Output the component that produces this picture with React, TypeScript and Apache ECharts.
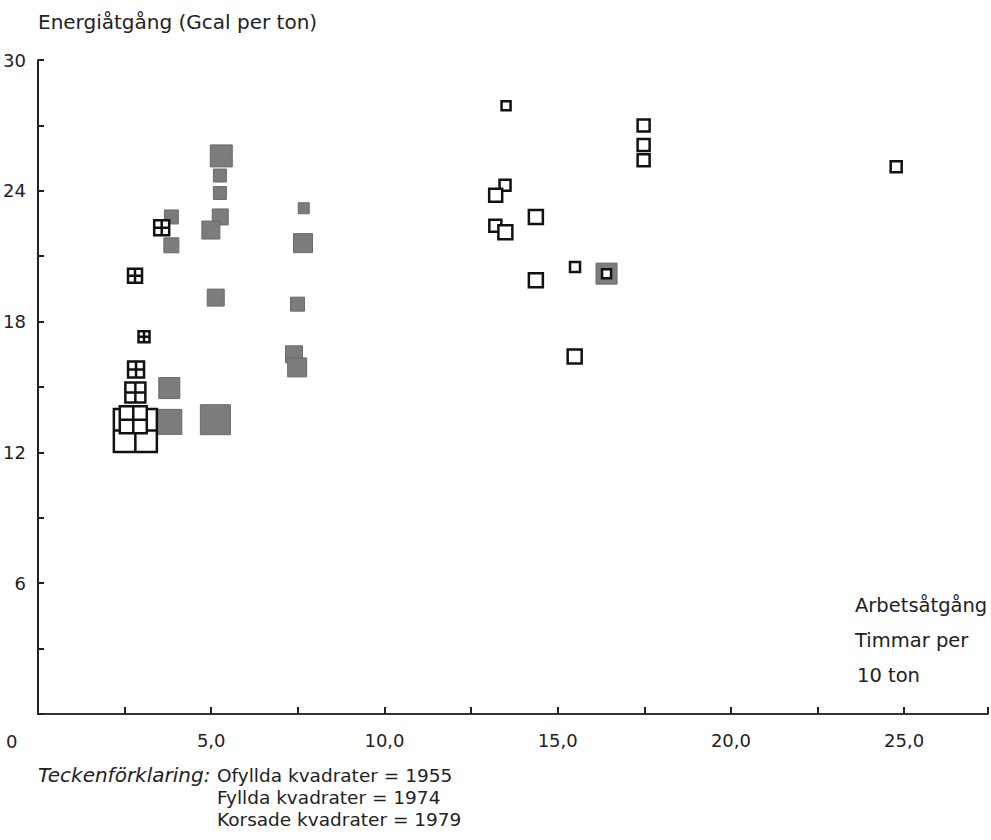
import React, { useEffect, useRef } from "react";
import * as echarts from "echarts";

// [arbetsåtgång (timmar per 10 ton), energiåtgång (Gcal per ton), symbol size]
const unfilled1955: number[][] = [
  [13.51, 27.9, 9],
  [17.48, 27.0, 12],
  [17.48, 26.1, 12],
  [17.48, 25.4, 12],
  [24.77, 25.1, 11],
  [13.48, 24.25, 11],
  [13.21, 23.8, 13],
  [14.37, 22.8, 14],
  [13.2, 22.4, 12],
  [13.49, 22.1, 14],
  [15.5, 20.5, 10],
  [14.37, 19.9, 14],
  [15.49, 16.4, 14],
];

const filled1974: number[][] = [
  [5.29, 25.6, 22],
  [5.25, 24.7, 13],
  [5.25, 23.9, 13],
  [5.26, 22.8, 16],
  [4.99, 22.2, 18],
  [3.85, 22.8, 14],
  [3.85, 21.5, 15],
  [7.67, 23.2, 11],
  [7.65, 21.6, 19],
  [5.13, 19.1, 17],
  [7.49, 18.8, 14],
  [7.39, 16.5, 17],
  [7.48, 15.9, 19],
  [3.79, 14.95, 21],
  [3.79, 13.4, 25],
  [5.12, 13.5, 30],
  [16.41, 20.2, 21],
];

const unfilledOverlay1955: number[][] = [[16.41, 20.2, 9]];

const crossed1979: number[][] = [
  [2.81, 13.0, 43],
  [2.75, 13.5, 27],
  [2.81, 14.75, 20],
  [2.83, 15.8, 16],
  [3.06, 17.3, 11],
  [2.8, 20.1, 14],
  [3.57, 22.3, 15],
];

const xLabels: Record<string, string> = { "5": "5,0", "10": "10,0", "15": "15,0", "20": "20,0", "25": "25,0" };
const yLabels: Record<string, string> = { "6": "6", "12": "12", "18": "18", "24": "24", "30": "30" };

const FONT = '"DejaVu Sans", "Liberation Sans", sans-serif';

export default function App() {
  const ref = useRef<HTMLDivElement>(null);
  useEffect(() => {
    if (!ref.current) return;
    const chart = echarts.init(ref.current, undefined, { renderer: "svg" });
    const sizeFn = (v: number[]) => v[2];
    chart.setOption({
      animation: false,
      backgroundColor: "#ffffff",
      grid: { left: 38, top: 60, width: 951, height: 654 },
      xAxis: {
        type: "value",
        min: 0,
        max: 27.42,
        interval: 2.5,
        splitLine: { show: false },
        axisLine: { show: true, lineStyle: { color: "#333", width: 2 } },
        axisTick: { show: true, inside: true, length: 7, lineStyle: { color: "#222", width: 2 } },
        axisLabel: {
          show: true,
          margin: 17,
          fontFamily: FONT,
          fontSize: 18,
          color: "#222",
          formatter: (v: number) => xLabels[String(v)] ?? "",
        },
      },
      yAxis: {
        type: "value",
        min: 0,
        max: 30,
        interval: 3,
        splitLine: { show: false },
        axisLine: { show: true, lineStyle: { color: "#222", width: 2 } },
        axisTick: { show: true, inside: true, length: 6, lineStyle: { color: "#222", width: 2 } },
        axisLabel: {
          show: true,
          margin: 12,
          fontFamily: FONT,
          fontSize: 18,
          color: "#222",
          formatter: (v: number) => yLabels[String(v)] ?? "",
        },
      },
      series: [
        {
          name: "1974",
          type: "scatter",
          symbol: "rect",
          symbolSize: sizeFn,
          data: filled1974,
          itemStyle: { color: "#7c7c7c", borderColor: "#6a6a6a", borderWidth: 1, opacity: 1 },
          z: 2,
        },
        {
          name: "1955",
          type: "scatter",
          symbol: "rect",
          symbolSize: sizeFn,
          data: unfilled1955.concat(unfilledOverlay1955),
          itemStyle: { color: "#ffffff", borderColor: "#111", borderWidth: 2.5, opacity: 1 },
          z: 3,
        },
        {
          name: "1979",
          type: "scatter",
          symbol: "path://M0,0H20V20H0ZM10,0V20M0,10H20",
          symbolSize: sizeFn,
          data: crossed1979,
          itemStyle: { color: "#ffffff", borderColor: "#111", borderWidth: 2.5, opacity: 1 },
          z: 4,
        },
      ],
      graphic: [
        { type: "text", x: 38, y: 22, style: { text: "Energiåtgång (Gcal per ton)", font: `20px ${FONT}`, fill: "#222", verticalAlign: "middle" } },
        { type: "text", x: 6, y: 741, style: { text: "0", font: `18px ${FONT}`, fill: "#222", verticalAlign: "middle" } },
        { type: "text", x: 855, y: 605, style: { text: "Arbetsåtgång", font: `19.5px ${FONT}`, fill: "#222", verticalAlign: "middle" } },
        { type: "text", x: 855, y: 640, style: { text: "Timmar per", font: `19.5px ${FONT}`, fill: "#222", verticalAlign: "middle" } },
        { type: "text", x: 857, y: 675, style: { text: "10 ton", font: `19.5px ${FONT}`, fill: "#222", verticalAlign: "middle" } },
        { type: "text", x: 38, y: 775, style: { text: "Teckenförklaring:", font: `italic 20px ${FONT}`, fill: "#222", verticalAlign: "middle" } },
        { type: "text", x: 217, y: 775, style: { text: "Ofyllda kvadrater = 1955", font: `18.5px ${FONT}`, fill: "#222", verticalAlign: "middle" } },
        { type: "text", x: 217, y: 797, style: { text: "Fyllda kvadrater = 1974", font: `18.5px ${FONT}`, fill: "#222", verticalAlign: "middle" } },
        { type: "text", x: 217, y: 819, style: { text: "Korsade kvadrater = 1979", font: `18.5px ${FONT}`, fill: "#222", verticalAlign: "middle" } },
      ],
    });
    return () => chart.dispose();
  }, []);
  return (
    <div
      ref={ref}
      style={{ position: "absolute", left: 0, top: 0, width: 991, height: 840, background: "#fff" }}
    />
  );
}
